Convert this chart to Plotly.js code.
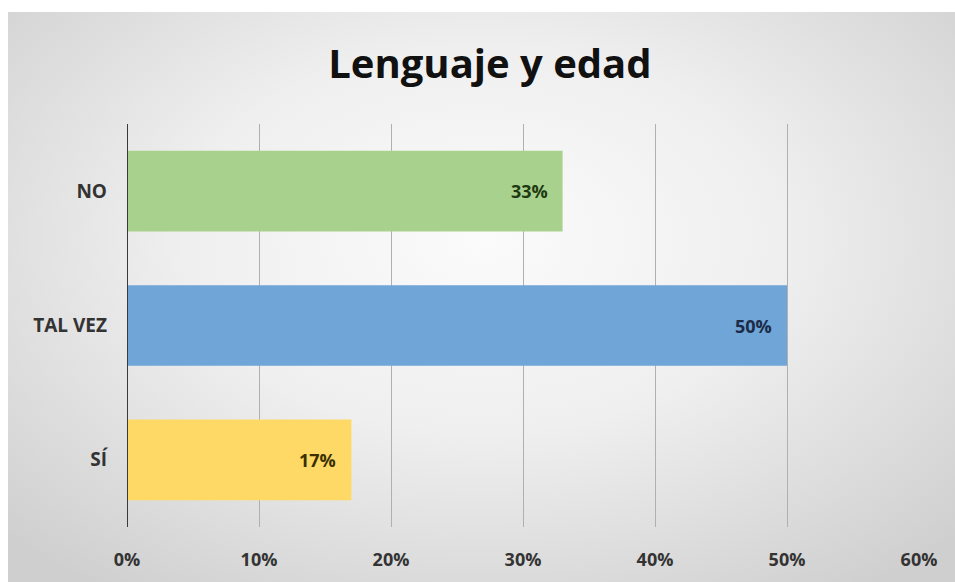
<!DOCTYPE html>
<html><head><meta charset="utf-8">
<script src="https://cdn.plot.ly/plotly-3.0.1.min.js"></script>
<style>
html,body{margin:0;padding:0;background:#fff;}
#bg{position:absolute;left:8px;top:12px;width:947px;height:570px;
background:radial-gradient(ellipse 70% 75% at 50% 40%, #fbfbfb 0%, #efefef 45%, #cfcfcf 100%);}
#chart{position:absolute;left:0;top:0;width:955px;height:582px;}
</style></head>
<body>
<div id="bg"></div>
<div id="chart"></div>
<script>
const categories = ['SÍ', 'TAL VEZ', 'NO'];
const values = [0.17, 0.50, 0.33];
const labels = ['17%', '50%', '33%'];
const barColors = ['#FFD966', '#6FA5D7', '#A9D18E'];
const labelColors = ['#3b3000', '#1b2b48', '#1f3a12'];
const tickVals = [0, 0.1, 0.2, 0.3, 0.4, 0.5, 0.6];
const tickText = ['0%', '10%', '20%', '30%', '40%', '50%', '60%'];

const font = '"Open Sans", "Noto Sans", sans-serif';

const trace = {
  type: 'bar', orientation: 'h',
  y: categories, x: values,
  marker: {color: barColors, line: {width: 0}},
  hoverinfo: 'none'
};

const annotations = categories.map((c, i) => ({
  x: values[i], y: c, xref: 'x', yref: 'y',
  text: '<b>' + labels[i] + '</b>', showarrow: false,
  xanchor: 'right', xshift: -13,
  font: {family: font, size: 18, color: labelColors[i]}
}));

const layout = {
  width: 955, height: 582,
  paper_bgcolor: 'rgba(0,0,0,0)', plot_bgcolor: 'rgba(0,0,0,0)',
  margin: {l: 127, r: 36, t: 124, b: 55},
  showlegend: false,
  bargap: 0.4,
  title: {text: '<b>Lenguaje y edad</b>', x: 0.513, xanchor: 'center', y: 0.89, yanchor: 'middle',
    font: {family: font, size: 40, color: '#111'}},
  xaxis: {range: [0, 0.6], tickvals: tickVals, ticktext: tickText,
    showgrid: true, gridcolor: '#b0b0b0', gridwidth: 1,
    zeroline: false, showline: false, ticks: '',
    ticklabelstandoff: 20,
    tickfont: {family: font, size: 18, color: '#333', weight: 'bold'}},
  yaxis: {range: [-0.5, 2.5], showgrid: false, zeroline: false,
    showline: false, ticks: '', ticklabelstandoff: 19,
    tickfont: {family: font, size: 19, color: '#333', weight: 'bold'}},
  shapes: [{type: 'line', xref: 'x', yref: 'paper', x0: 0, x1: 0, y0: 0, y1: 1,
    line: {color: '#3a3a3a', width: 2}}],
  annotations: annotations
};

Plotly.newPlot('chart', [trace], layout, {displayModeBar: false, staticPlot: true});
</script>
</body></html>
